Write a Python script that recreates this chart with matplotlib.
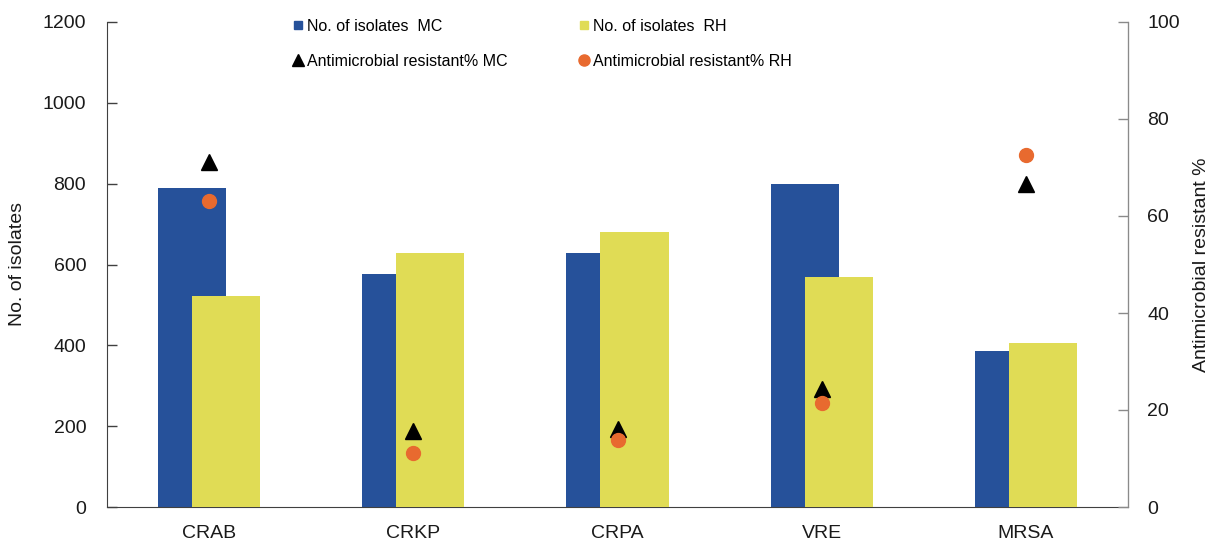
import matplotlib
matplotlib.use("Agg")
import matplotlib.pyplot as plt
from matplotlib.lines import Line2D
import numpy as np

plt.rcParams['font.family'] = ['Liberation Sans', 'DejaVu Sans']

categories = ["CRAB", "CRKP", "CRPA", "VRE", "MRSA"]
isolates_mc = [790, 577, 628, 798, 387]
isolates_rh = [522, 629, 680, 570, 407]
resist_mc = [71.2, 15.7, 16.1, 24.3, 66.7]
resist_rh = [63.0, 11.1, 13.8, 21.4, 72.6]

left_ticks = [0, 200, 400, 600, 800, 1000, 1200]
right_ticks = [0, 20, 40, 60, 80, 100]

blue = "#26519A"
yellow = "#E0DC55"
orange = "#E86A2F"

fig = plt.figure(figsize=(12.1, 5.41), dpi=100)
ax = fig.add_axes([107 / 1210, 1 - 507 / 541, (1128 - 107) / 1210, (507 - 22) / 541])
ax2 = ax.twinx()

x = np.arange(len(categories)) + 0.5
width = 1 / 3
offset = 1 / 12
ax.bar(x - offset, isolates_mc, width=width, color=blue, zorder=2)
ax.bar(x + offset, isolates_rh, width=width, color=yellow, zorder=3)

ax2.plot(x, resist_mc, linestyle="none", marker="^", markersize=11, color="black")
ax2.plot(x, resist_rh, linestyle="none", marker="o", markersize=10, color=orange)

ax.set_xlim(0, len(categories))
ax.set_ylim(0, 1200)
ax2.set_ylim(0, 100)
ax.set_yticks(left_ticks)
ax2.set_yticks(right_ticks)
ax.set_xticks(x)
ax.set_xticklabels(categories)

for a in (ax, ax2):
    a.spines["top"].set_visible(False)
ax.spines["left"].set_color("#404040")
ax.spines["bottom"].set_color("#404040")
ax2.spines["right"].set_color("#8a8a8a")
ax2.spines["left"].set_visible(False)
ax2.spines["bottom"].set_visible(False)

ax.tick_params(axis="y", direction="in", length=7, width=1, colors="#404040",
               labelcolor="#1a1a1a", labelsize=14, pad=15)
ax.tick_params(axis="x", length=0, labelsize=14, labelcolor="#1a1a1a", pad=13)
ax2.tick_params(axis="y", direction="in", length=7, width=1, colors="#8a8a8a",
                labelcolor="#1a1a1a", labelsize=14, pad=14)

ax.set_ylabel("No. of isolates", fontsize=14, color="#1a1a1a", labelpad=12)
ax2.set_ylabel("Antimicrobial resistant %", fontsize=14, color="#1a1a1a", labelpad=9)

handles = [
    Line2D([], [], linestyle="none", marker="s", markersize=6, color=blue),
    Line2D([], [], linestyle="none", marker="^", markersize=9, color="black"),
    Line2D([], [], linestyle="none", marker="s", markersize=6, color=yellow),
    Line2D([], [], linestyle="none", marker="o", markersize=8, color=orange),
]
labels = ["No. of isolates  MC", "Antimicrobial resistant% MC",
          "No. of isolates  RH", "Antimicrobial resistant% RH"]
ax2.legend(handles, labels, ncol=2, loc="upper left",
           bbox_to_anchor=(285 / 1210, 1 - 11 / 541), bbox_transform=fig.transFigure,
           frameon=False, fontsize=11.5, handlelength=0.6, handletextpad=0.25,
           columnspacing=4.5, labelspacing=1.25, borderpad=0)

fig.savefig("out.png", dpi=100)
